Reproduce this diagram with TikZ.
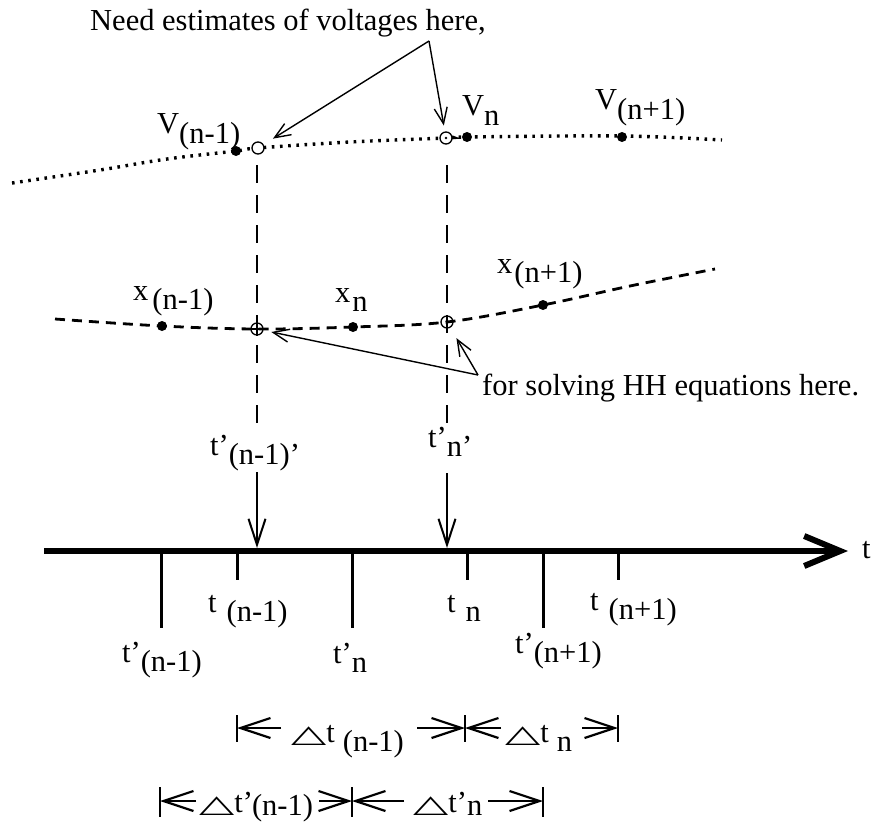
\documentclass[tikz,border=0pt]{standalone}
\usepackage{graphicx}
\usepackage{fontspec}
\setmainfont{Liberation Serif}
\newfontfamily\dvfont{DejaVu Sans}
\usetikzlibrary{arrows.meta}
\newcommand\subl[2][0.3em]{\raisebox{-#1}{#2}}
\newcommand\tri{\scalebox{1.5}[0.8]{\dvfont △}}
\begin{document}
\begin{tikzpicture}[x=1pt,y=-1pt,
  lab/.style={anchor=base west,inner sep=0pt,font=\fontsize{30.5}{35}\selectfont},
  dotc/.style={circle,fill=black,inner sep=0pt,minimum size=10pt},
  openc/.style={circle,draw=black,line width=1.3pt,fill=white,inner sep=0pt,minimum size=12pt},
  xc/.style={circle,draw=black,line width=1.3pt,inner sep=0pt,minimum size=12pt},
  vdash/.style={line width=1.5pt,dash pattern=on 18pt off 12pt},
  dotted curve/.style={line width=3.4pt,dash pattern=on 2.6pt off 5.6pt},
  dashed curve/.style={line width=2.8pt,dash pattern=on 10pt off 7pt},
  smallarr/.style={line width=1.4pt,-{Straight Barb[length=16pt,width=13pt]}},
  downarr/.style={line width=2pt,-{Straight Barb[length=26pt,width=17pt]}},
  darr/.style={line width=2.2pt,-{Straight Barb[length=30pt,width=20pt]}},
  axisarr/.style={line width=6pt,-{Straight Barb[length=36pt,width=30pt]}},
  tick/.style={line width=3pt},
  bar/.style={line width=2.5pt}]
\useasboundingbox (0,0) rectangle (880,824);

% V curve
\draw[dotted curve] plot[smooth,tension=0.6] coordinates
  {(12,183) (100,170) (167,159) (236,151) (258,148) (350,142) (446,138) (467,137) (622,136) (722,140)};
% x curve
\draw[dashed curve] plot[smooth,tension=0.6] coordinates
  {(55,319) (162,326) (257,329) (353,327) (447,322) (543,305) (630,286) (715,269)};

% vertical dashed guides
\coordinate (ga) at (257,165); \coordinate (gb) at (257,430);
\coordinate (gc) at (447,165); \coordinate (gd) at (447,430);
\draw[vdash] (ga) -- (gb);
\draw[vdash] (gc) -- (gd);

% points
\node[dotc] (V1) at (236,151) {};
\node[dotc] (V2) at (467,137) {};
\node[dotc] (V3) at (622,137) {};
\node[openc] (cV1) at (258,148) {};
\node[openc] (cV2) at (446,138) {};
\fill (cV2.center) circle (1.3pt);
\node[dotc] (X1) at (162,326) {};
\node[dotc] (X2) at (353,327) {};
\node[dotc] (X3) at (543,305) {};
\node[xc] (cX1) at (257,329) {};
\node[xc] (cX2) at (447,322) {};
\draw[line width=1.3pt] (cX1.north) -- (cX1.south) (cX1.west) -- (cX1.east);
\draw[line width=1.3pt] (cX2.north) -- (cX2.south);

% labels
\node[lab] (title) at (90,31) {Need estimates of voltages here,};
\node[lab] (Vnm1) at (157,134) {V\subl{(n-1)}};
\node[lab] (Vn) at (462,116) {V\subl{n}};
\node[lab] (Vnp1) at (595,110) {V\subl{(n+1)}};
\node[lab] (xnm1) at (133,300) {x\hspace{4pt}\subl{(n-1)}};
\node[lab] (xn) at (335,302) {x\hspace{2pt}\subl{n}};
\node[lab] (xnp1) at (497,273) {x\hspace{2pt}\subl{(n+1)}};
\node[lab] (forlab) at (482,395) {for solving HH equations here.};
\node[lab] (tpa) at (210,455) {t’\subl{(n-1)’}};
\node[lab] (tpb) at (428,447) {t’\subl{n’}};
\node[lab] (taxis) at (862,558) {t};
\node[lab] (t1) at (208,612) {t\hspace{10pt}\subl{(n-1)}};
\node[lab] (t2) at (447,612) {t\hspace{10pt}\subl{n}};
\node[lab] (t3) at (590,610) {t\hspace{10pt}\subl{(n+1)}};
\node[lab] (tp1) at (122,662) {t’\subl{(n-1)}};
\node[lab] (tp2) at (333,663) {t’\subl{n}};
\node[lab] (tp3) at (515,653) {t’\subl{(n+1)}};
\node[lab] (dt1) at (291,742) {\tri t\hspace{8pt}\subl{(n-1)}};
\node[lab] (dt2) at (505,742) {\tri t\hspace{8pt}\subl{n}};
\node[lab] (dtp1) at (199,812) {\tri t’\hspace{-1pt}\subl[0.12em]{(n-1)}};
\node[lab] (dtp2) at (413,812) {\tri t’\subl[0.12em]{n}};

% pointer arrows
\coordinate (apV) at (429,41);
\draw[smallarr,shorten >=11pt] (apV) -- (cV1);
\draw[smallarr,shorten >=6pt] (apV) -- (cV2);
\coordinate (apX) at (478,375);
\draw[smallarr,shorten >=8pt] (apX) -- (cX1);
\draw[smallarr,shorten >=12pt] (apX) -- (cX2);

% time axis
\coordinate (axL) at (44,551); \coordinate (axR) at (848,551);
\draw[axisarr] (axL) -- (axR);
\foreach \x in {161,352,543} \draw[tick] (\x,551) -- (\x,628);
\foreach \x in {237,467,618} \draw[tick] (\x,551) -- (\x,580);

% arrows onto axis
\coordinate (s1) at (257,472); \coordinate (e1) at (257,548);
\coordinate (s2) at (447,473); \coordinate (e2) at (447,548);
\draw[downarr] (s1) -- (e1);
\draw[downarr] (s2) -- (e2);

% delta rows
\foreach \x in {237,465,618} \draw[bar] (\x,715) -- (\x,742);
\foreach \x in {160,352,543} \draw[bar] (\x,787) -- (\x,817);
\coordinate (r1a) at (237,728); \coordinate (r1b) at (281,728);
\coordinate (r1c) at (417,728); \coordinate (r1d) at (465,728);
\coordinate (r1e) at (501,728); \coordinate (r1f) at (582,728);
\coordinate (r1g) at (618,728);
\draw[darr] (r1b) -- (r1a);
\draw[darr] (r1c) -- (r1d);
\draw[darr] (r1e) -- (r1d);
\draw[darr] (r1f) -- (r1g);
\coordinate (r2a) at (160,801); \coordinate (r2b) at (196,801);
\coordinate (r2c) at (319,801); \coordinate (r2d) at (352,801);
\coordinate (r2e) at (404,801); \coordinate (r2f) at (488,801);
\coordinate (r2g) at (543,801);
\draw[darr] (r2b) -- (r2a);
\draw[darr] (r2c) -- (r2d);
\draw[darr] (r2e) -- (r2d);
\draw[darr] (r2f) -- (r2g);
\end{tikzpicture}
\end{document}
